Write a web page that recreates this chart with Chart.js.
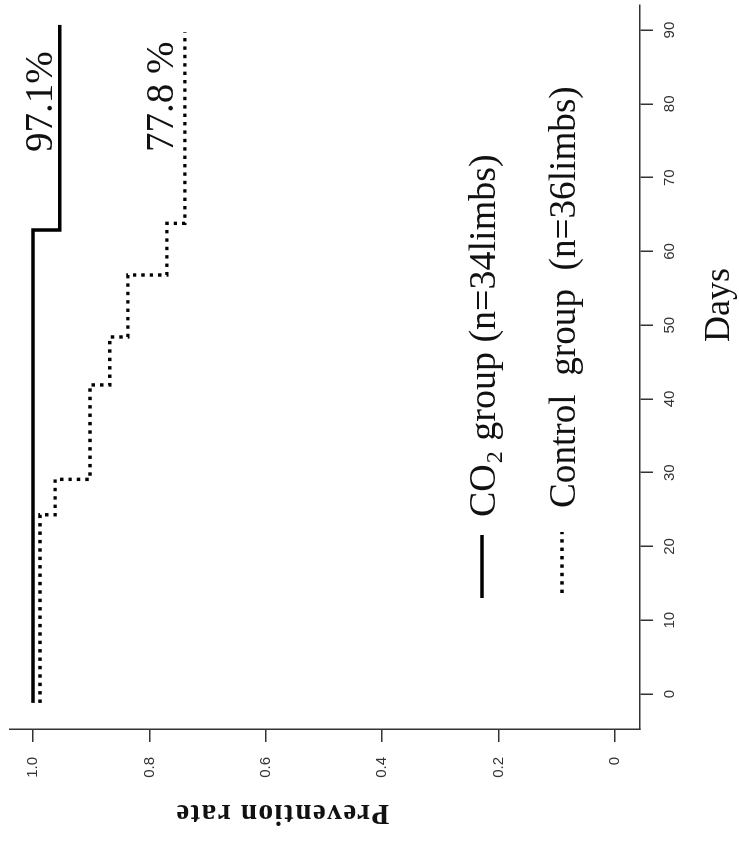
<!DOCTYPE html>
<html>
<head>
<meta charset="utf-8">
<title>Prevention rate</title>
<script src="https://cdn.jsdelivr.net/npm/chart.js@4.4.1/dist/chart.umd.min.js"></script>
<style>
  html, body { margin: 0; padding: 0; background: #fff; overflow: hidden; }
  /* the figure is printed turned a quarter turn counter-clockwise */
  #wrap {
    position: absolute; left: 0; top: 0;
    width: 841px; height: 739px;
    transform-origin: 0 0;
    transform: translateY(841px) rotate(-90deg);
  }
</style>
</head>
<body>
<div id="wrap"><canvas id="myChart" width="841" height="739"></canvas></div>
<script>
const dayTicks = [0, 10, 20, 30, 40, 50, 60, 70, 80, 90]
const rateTicks = [0, 0.2, 0.4, 0.6, 0.8, 1.0]
const rateTickLabels = ['0', '0.2', '0.4', '0.6', '0.8', '1.0']

// Kaplan-Meier style steps: day of event, rate after it
const co2Days = [-1.2, 62.9, 90.7]
const co2Rate = [1.0, 0.954, 0.954]
const controlDays = [-1.2, 24.3, 29.1, 41.9, 48.4, 56.8, 63.8, 89.7]
const controlRate = [0.988, 0.962, 0.902, 0.868, 0.837, 0.770, 0.739, 0.739]

const seriesNames = [['CO', '2', ' group (n=34limbs)'], ['Control', '', '  group  (n=36limbs)']]
const endLabels = ['97.1%', '77.8 %']

const serif = '"Liberation Serif", "Times New Roman", serif'

const toPoints = (xs, ys) => xs.map((x, i) => ({ x, y: ys[i] }))

// axis titles, end labels and the legend are placed by hand like in the print
const extras = {
  id: 'extras',
  afterDraw(chart) {
    const { ctx } = chart
    ctx.save()
    ctx.fillStyle = '#111'

    ctx.font = `36px ${serif}`
    ctx.textAlign = 'center'
    ctx.textBaseline = 'alphabetic'
    ctx.fillText('Days', 536, 729)

    ctx.save()
    ctx.translate(36, 282)
    ctx.rotate(-Math.PI / 2)
    ctx.font = `bold 29px ${serif}`
    ctx.letterSpacing = '1.5px'
    ctx.fillText('Prevention rate', 0, 0)
    ctx.restore()

    // percentages at the end of each curve
    ctx.font = `39px ${serif}`
    ctx.textAlign = 'left'
    ctx.fillText(endLabels[0], 689, 52)
    ctx.fillText(endLabels[1], 689, 173)

    // legend
    const rows = [
      { y: 482, x0: 243, x1: 306, tx: 324, size: 38 },
      { y: 562, x0: 248, x1: 309, tx: 333, size: 37.2 },
    ]
    rows.forEach((row, i) => {
      const ds = chart.data.datasets[i]
      ctx.save()
      ctx.strokeStyle = ds.borderColor
      ctx.lineWidth = ds.borderWidth
      ctx.setLineDash(ds.borderDash || [])
      ctx.beginPath()
      ctx.moveTo(row.x0, row.y)
      ctx.lineTo(row.x1, row.y)
      ctx.stroke()
      ctx.restore()

      const [main, sub, rest] = seriesNames[i]
      const base = row.y + 13
      let x = row.tx
      ctx.font = `${row.size}px ${serif}`
      ctx.fillText(main, x, base)
      x += ctx.measureText(main).width
      if (sub) {
        ctx.font = `24px ${serif}`
        ctx.fillText(sub, x + 1, base + 7)
        x += ctx.measureText(sub).width + 2
        ctx.font = `${row.size}px ${serif}`
      }
      ctx.fillText(rest, x, base)
    })
    ctx.restore()
  },
}

const tickFont = { family: '"Liberation Sans", Arial, sans-serif', size: 15 }

new Chart(document.getElementById('myChart'), {
  type: 'line',
  data: {
    datasets: [
      {
        label: 'CO2 group (n=34limbs)',
        data: toPoints(co2Days, co2Rate),
        borderColor: '#000',
        borderWidth: 3.5,
        stepped: true,
        pointRadius: 0,
        fill: false,
      },
      {
        label: 'Control group (n=36limbs)',
        data: toPoints(controlDays, controlRate),
        borderColor: '#000',
        borderWidth: 3.4,
        borderDash: [3.4, 5],
        borderCapStyle: 'butt',
        stepped: true,
        pointRadius: 0,
        fill: false,
      },
    ],
  },
  options: {
    responsive: false,
    animation: false,
    layout: { padding: { top: 10, right: 5, bottom: 0, left: 0 } },
    plugins: {
      legend: { display: false },
      tooltip: { enabled: false },
    },
    scales: {
      x: {
        type: 'linear',
        min: -4.74,
        max: 93.4,
        afterBuildTicks: (scale) => {
          scale.ticks = dayTicks.map((v) => ({ value: v }))
        },
        afterFit: (scale) => {
          scale.height = 99
          scale.paddingLeft = 0
          scale.paddingRight = 0
        },
        grid: { drawOnChartArea: false, drawTicks: true, tickLength: 13, color: '#333', lineWidth: 1.5 },
        border: { display: true, color: '#333', width: 1.5 },
        ticks: { color: '#333', font: tickFont, padding: 8, maxRotation: 0 },
      },
      y: {
        type: 'linear',
        min: -0.043,
        max: 1.0395,
        afterBuildTicks: (scale) => {
          scale.ticks = rateTicks.map((v) => ({ value: v }))
        },
        afterFit: (scale) => {
          scale.width = 112
          scale.paddingTop = 0
          scale.paddingBottom = 0
        },
        grid: { drawOnChartArea: false, drawTicks: true, tickLength: 13, color: '#333', lineWidth: 1.5 },
        border: { display: true, color: '#333', width: 1.5 },
        ticks: {
          color: '#333',
          font: tickFont,
          padding: 15,
          callback: (value) => rateTickLabels[rateTicks.indexOf(value)] ?? '',
        },
      },
    },
  },
  plugins: [extras],
})
</script>
</body>
</html>
